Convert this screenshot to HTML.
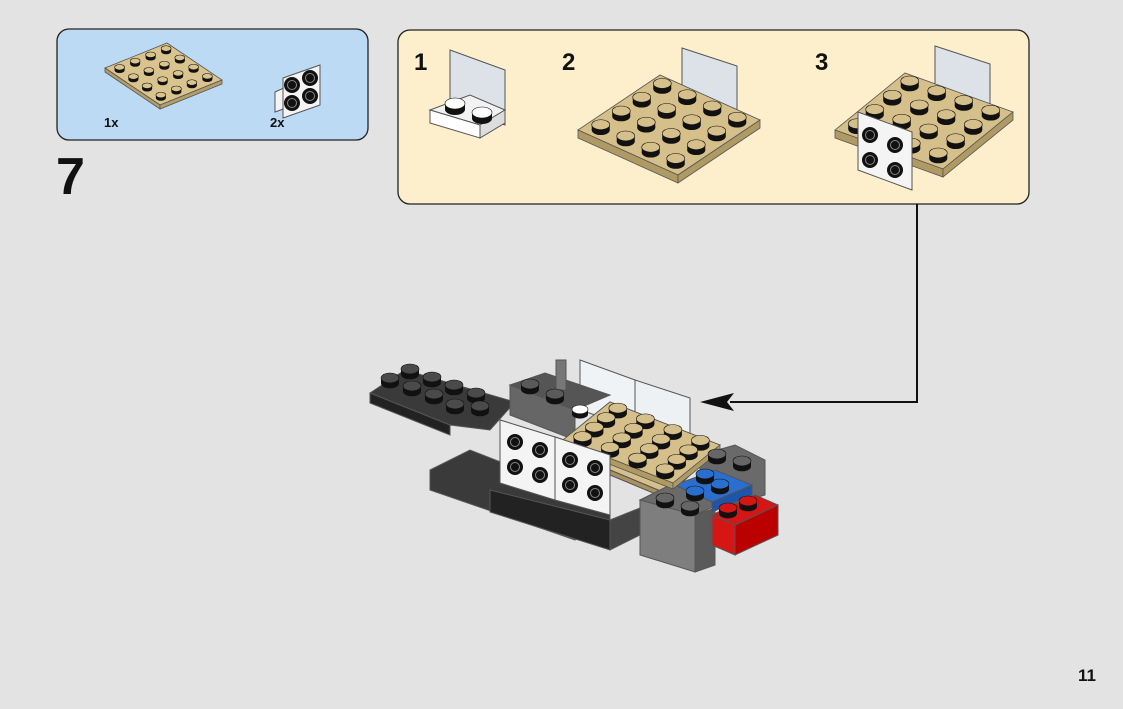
<!DOCTYPE html>
<html><head><meta charset="utf-8"><style>
html,body{margin:0;padding:0;background:#e3e3e3;}
body{width:1123px;height:709px;overflow:hidden;position:relative;font-family:"Liberation Sans",sans-serif;}
svg{position:absolute;left:0;top:0}
</style></head><body>
<svg id="s" width="1123" height="709" viewBox="0 0 1123 709">
<rect x="57" y="29" width="311" height="111" rx="12" fill="#bcdaf3" stroke="#222" stroke-width="1.3"/>
<rect x="398" y="30" width="631" height="174" rx="12" fill="#fdefcc" stroke="#222" stroke-width="1.3"/>
<polyline points="917,204 917,402 730,402" fill="none" stroke="#111" stroke-width="2"/>
<polygon points="700,402 734,393 727,402 734,411" fill="#111"/>
<text x="56" y="194" font-size="52" font-weight="bold" fill="#111">7</text>
<text x="1078" y="681" font-size="17" font-weight="bold" fill="#111">11</text>
<text x="104" y="127" font-size="13" font-weight="bold" fill="#111">1x</text>
<text x="270" y="127" font-size="13" font-weight="bold" fill="#111">2x</text>
<text x="414" y="70" font-size="24" font-weight="bold" fill="#111">1</text>
<text x="562" y="70" font-size="24" font-weight="bold" fill="#111">2</text>
<text x="815" y="70" font-size="24" font-weight="bold" fill="#111">3</text>
<polygon points="450,50 505,70 505,125 450,105" fill="#dde2e8" stroke="#555" stroke-width="1"/>
<polygon points="430,110 470,95 505,110 480,125" fill="#f2f2f2" stroke="#555"/>
<polygon points="430,110 480,125 480,138 430,123" fill="#fff" stroke="#555"/>
<polygon points="480,125 505,110 505,123 480,138" fill="#ddd" stroke="#555"/>
<polygon points="682,48 737,66 737,120 682,102" fill="#dde2e8" stroke="#555"/>
<polygon points="935,46 990,64 990,118 935,100" fill="#dde2e8" stroke="#555"/>
<g stroke="#555" stroke-width="1">
<polygon points="370,393 405,370 515,402 490,430 450,425" fill="#3a3a3a"/>
<polygon points="370,393 450,425 450,435 370,403" fill="#222"/>
<polygon points="580,360 635,380 635,428 580,410" fill="#f0f3f5"/>
<polygon points="635,380 690,398 690,446 635,428" fill="#eef1f3"/>
<polygon points="510,385 545,373 610,395 575,410" fill="#555"/>
<polygon points="510,385 575,410 575,440 510,415" fill="#666"/>
<rect x="556" y="360" width="10" height="30" fill="#777"/>
<polygon points="430,470 470,450 610,505 610,525 575,540 430,490" fill="#3a3a3a"/>
<polygon points="490,490 610,520 610,550 490,512" fill="#222"/>
<polygon points="610,520 640,508 640,535 610,550" fill="#444"/>
<polygon points="500,420 555,437 555,500 500,483" fill="#fafafa"/>
<polygon points="555,437 610,455 610,515 555,500" fill="#fafafa"/>
<polygon points="563,440 610,402 720,445 670,495 610,470" fill="#d5bf8a"/>
<polygon points="610,470 670,495 670,500 610,475" fill="#a89060"/>
<polygon points="700,455 735,445 765,460 765,495 730,505 700,490" fill="#6a6a6a"/>
<polygon points="640,500 680,480 735,497 695,515" fill="#6a6a6a"/>
<polygon points="640,500 695,515 695,572 640,555" fill="#7e7e7e"/>
<polygon points="695,515 715,508 715,565 695,572" fill="#5a5a5a"/>
<polygon points="675,485 715,470 752,485 712,502" fill="#2a6fd0"/>
<polygon points="712,502 752,485 752,495 712,512" fill="#1d55a8"/>
<polygon points="712,515 755,495 778,505 735,525" fill="#d61515"/>
<polygon points="712,515 735,525 735,555 712,545" fill="#d61515"/>
<polygon points="735,525 778,505 778,535 735,555" fill="#b00"/>
</g>
<g id="studs"></g>
</svg>
<script>
var NS="http://www.w3.org/2000/svg",S=document.getElementById("studs");
function el(t,a,p){var e=document.createElementNS(NS,t);for(var k in a)e.setAttribute(k,a[k]);(p||S).appendChild(e);return e;}
function stud(x,y,r,top,side){el("rect",{x:x-r,y:y-r*0.45,width:2*r,height:r*0.6,fill:side});el("ellipse",{cx:x,cy:y+r*0.15,rx:r,ry:r*0.55,fill:side});el("ellipse",{cx:x,cy:y-r*0.45,rx:r,ry:r*0.55,fill:top,stroke:side,"stroke-width":0.6});}
function plate(L,u,v,th,top,edge,r,n,m){
 var T=[L[0]+n*u[0],L[1]+n*u[1]],R=[T[0]+m*v[0],T[1]+m*v[1]],B=[L[0]+m*v[0],L[1]+m*v[1]];
 el("polygon",{points:[L,T,R,B].join(" "),fill:top,stroke:"#555","stroke-width":0.8});
 el("polygon",{points:[L,B,[B[0],B[1]+th],[L[0],L[1]+th]].join(" "),fill:edge,stroke:"#555","stroke-width":0.8});
 el("polygon",{points:[B,R,[R[0],R[1]+th],[B[0],B[1]+th]].join(" "),fill:edge,stroke:"#555","stroke-width":0.8});
 for(var i=n-1;i>=0;i--)for(var j=0;j<m;j++){var x=L[0]+(i+.5)*u[0]+(j+.5)*v[0],y=L[1]+(i+.5)*u[1]+(j+.5)*v[1];stud(x,y,r,top,"#111");}
}
plate([105,68],[15.5,-6.25],[13.75,9.25],4,"#d9c48f","#b49d66",5,4,4);
plate([578,130],[20.5,-13.75],[25,11.25],8,"#d5bf8a","#b09a64",9,4,4);
plate([835,130],[17.5,-14.25],[27,9.75],8,"#d5bf8a","#b09a64",9,4,4);
stud(455,108,10,"#fff","#111");stud(482,117,10,"#fff","#111");
plate([563,440],[11.75,-9.5],[27.5,10.75],6,"#d5bf8a","#b09a64",9,4,4);
[[390,382],[412,390],[434,398],[410,373],[432,381],[454,389],[476,397],[455,408],[480,410]].forEach(function(p){stud(p[0],p[1],9,"#4a4a4a","#111");});
stud(530,388,9,"#5a5a5a","#111");stud(555,398,9,"#5a5a5a","#111");stud(580,413,8,"#fff","#111");
stud(695,495,9,"#2a6fd0","#111");stud(720,488,9,"#2a6fd0","#111");stud(705,478,9,"#2a6fd0","#111");
stud(665,502,9,"#666","#111");stud(690,510,9,"#666","#111");stud(717,458,9,"#666","#111");stud(742,465,9,"#666","#111");
stud(748,505,9,"#d61515","#111");stud(728,512,9,"#d61515","#111");
var G=document.getElementById("s");
function bracket(pts,holes){el("polygon",{points:pts,fill:"#f4f4f4",stroke:"#555"},G);holes.forEach(function(h){el("circle",{cx:h[0],cy:h[1],r:8,fill:"#111"},G);el("circle",{cx:h[0],cy:h[1],r:4.5,fill:"none",stroke:"#888","stroke-width":1},G);});}
bracket("858,112 912,132 912,190 858,170",[[870,135],[895,145],[870,160],[895,170]]);
bracket("275,92 297,82 297,104 275,112",[]);
bracket("283,78 320,65 320,105 283,118",[[292,85],[310,78],[292,103],[310,96]]);
bracket("500,420 555,437 555,500 500,483",[[515,442],[540,450],[515,467],[540,475]]);
bracket("555,437 610,455 610,515 555,500",[[570,460],[595,468],[570,485],[595,493]]);
</script>
</body></html>
